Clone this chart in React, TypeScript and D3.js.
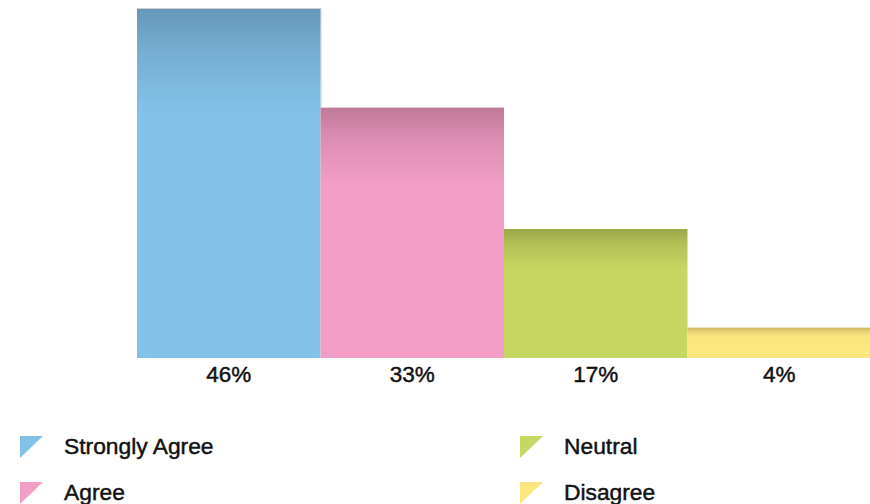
import React from "react";
import * as d3 from "d3";

const categories = ["Strongly Agree", "Agree", "Neutral", "Disagree"];
const values = [46, 33, 17, 4];
const labels = ["46%", "33%", "17%", "4%"];
const baseColors = ["#84C1E8", "#F29DC5", "#C5D661", "#FCE77F"];
const topColors = ["#6597B8", "#BF7A98", "#9AA849", "#C9B65F"];

const W = 870;
const H = 504;

export default function App() {
  const x = d3.scaleBand<string>().domain(categories).range([137, 871]).paddingInner(0).paddingOuter(0);
  const y = d3.scaleLinear().domain([0, 46]).range([358, 9]);

  const legendPos = [
    { x: 20, y: 436 },
    { x: 20, y: 482 },
    { x: 520, y: 436 },
    { x: 520, y: 482 },
  ];
  const fontFamily = "'Liberation Sans', Arial, Helvetica, sans-serif";
  const bx = x(categories[0])!;

  return (
    <svg width={W} height={H} style={{ position: "absolute", left: 0, top: 0 }}>
      <defs>
        {categories.map((c, i) => (
          <linearGradient key={c} id={`g${i}`} x1="0" y1="0" x2="0" y2="1">
            <stop offset="0" stopColor={topColors[i]} />
            <stop offset="0.12" stopColor={d3.interpolateRgb(topColors[i], baseColors[i])(0.55)} />
            <stop offset="0.3" stopColor={baseColors[i]} />
            <stop offset="1" stopColor={baseColors[i]} />
          </linearGradient>
        ))}
      </defs>
      <path
        d={`M${bx},${y(values[0]) - 0.5} H${bx + x.bandwidth() + 0.5} V${y(values[1])}`}
        fill="none"
        stroke="#cfcfcf"
        strokeWidth={1}
      />
      {categories.map((c, i) => (
        <rect
          key={c}
          x={x(c)!}
          y={y(values[i])}
          width={x.bandwidth()}
          height={y(0) - y(values[i])}
          fill={`url(#g${i})`}
        />
      ))}
      {categories.map((c, i) => (
        <text
          key={c}
          x={x(c)! + x.bandwidth() / 2}
          y={382}
          textAnchor="middle"
          fontFamily={fontFamily}
          fontSize={22.5}
          fill="#111"
          stroke="#111"
          strokeWidth={0.45}
        >
          {labels[i]}
        </text>
      ))}
      {categories.map((c, i) => {
        const p = legendPos[i];
        return (
          <g key={c} transform={`translate(${p.x},${p.y})`}>
            <path d="M0,0 L23,0 L0,22 Z" fill={baseColors[i]} />
            <text
              x={44}
              y={17.5}
              fontFamily={fontFamily}
              fontSize={22.8}
              fill="#111"
              stroke="#111"
              strokeWidth={0.45}
            >
              {c}
            </text>
          </g>
        );
      })}
    </svg>
  );
}
